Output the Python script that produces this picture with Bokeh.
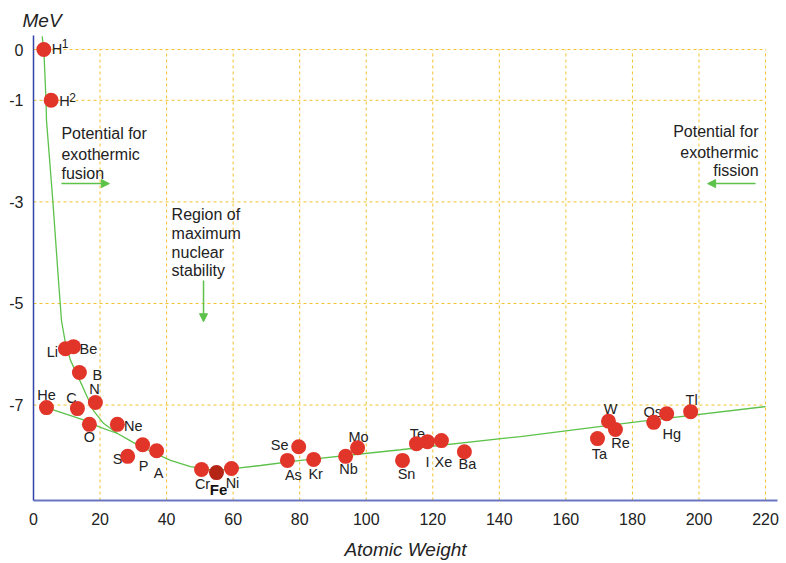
from bokeh.plotting import figure
from bokeh.models import Arrow, NormalHead, FixedTicker, ColumnDataSource
from bokeh.core.properties import value
from bokeh.embed import file_html
from bokeh.resources import INLINE

# ---------------- data ----------------
element = ["He", "Li", "Be", "B", "C", "N", "O", "Ne", "S", "P", "A", "Cr", "Ni",
           "As", "Se", "Kr", "Nb", "Mo", "Sn", "Te", "I", "Xe", "Ba",
           "Ta", "W", "Re", "Os", "Hg", "Tl"]
atomic_weight = [3.9, 9.6, 12.0, 13.8, 13.2, 18.6, 16.8, 25.2, 28.3, 32.8, 37.0, 50.5, 59.5,
                 76.3, 79.7, 84.2, 93.8, 97.4, 110.9, 115.1, 118.4, 122.6, 129.5,
                 169.5, 172.8, 174.9, 186.4, 190.3, 197.5]
mev = [-7.05, -5.89, -5.85, -6.36, -7.07, -6.95, -7.38, -7.38, -8.01, -7.78, -7.90, -8.27, -8.25,
       -8.09, -7.82, -8.07, -8.01, -7.84, -8.09, -7.76, -7.72, -7.70, -7.92,
       -7.66, -7.32, -7.48, -7.34, -7.17, -7.13]

hydrogen = ["H", "H"]
hydrogen_mass = ["1", "2"]
hydrogen_weight = [3.1, 5.3]
hydrogen_mev = [0.0, -1.0]

iron = ["Fe"]
iron_weight = [55.0]
iron_mev = [-8.33]

# binding-energy curve
curve_weight = [2.61, 3.10, 3.76, 3.91, 5.80, 7.51, 8.42, 9.62, 11.12, 13.53, 16.23, 18.03,
                21.04, 25.25, 30.06, 35.17, 41.18, 47.19, 54.70, 60.11, 68.23, 80.25,
                110.31, 146.38, 182.45, 220.0]
curve_mev = [0.26, 0.00, -1.00, -1.40, -2.97, -4.55, -5.34, -5.79, -6.12, -6.46, -6.85, -7.11,
             -7.36, -7.56, -7.74, -7.91, -8.09, -8.21, -8.29, -8.25, -8.19, -8.09,
             -7.88, -7.62, -7.32, -7.03]
# helium branch
he_weight = [3.9, 15.0, 20.1, 25.25]
he_mev = [-7.05, -7.29, -7.44, -7.56]

x_ticks = [0, 20, 40, 60, 80, 100, 120, 140, 160, 180, 200, 220]
y_ticks = [0, -1, -3, -5, -7]
y_tick_labels = ["0", "-1", "-3", "-5", "-7"]

x_title = "Atomic Weight"
y_title = "MeV"

notes_fusion = ["Potential for", "exothermic", "fusion"]
notes_stability = ["Region of", "maximum", "nuclear", "stability"]
notes_fission = ["Potential for", "exothermic", "fission"]

# ---------------- styling / positions ----------------
FONT = "Liberation Sans"
TXT = "#222222"
RED = "#e2352a"
DARK_RED = "#b52516"
GREEN = "#5cc24a"
GRID = "#f2c230"

label_offset = {
    "He": (0, -13), "Li": (-13, 3), "Be": (15, 2), "B": (18, 2), "C": (-6, -11),
    "N": (-1, -14), "O": (0, 13), "Ne": (16, 2), "S": (-10, 3), "P": (1, 21),
    "A": (2, 22), "Cr": (1, 14), "Ni": (1, 14), "As": (6, 15), "Se": (-19, -2),
    "Kr": (2, 15), "Nb": (3, 13), "Mo": (1, -11), "Sn": (4, 14), "Te": (1, -10),
    "I": (0, 20), "Xe": (2, 21), "Ba": (3, 12), "Ta": (2, 15), "W": (2, -12),
    "Re": (5, 14), "Os": (-1, -10), "Hg": (5, 20), "Tl": (1, -12),
}

x_lo, x_hi = 0, 223.6
y_lo, y_hi = -8.879, 0.276

p = figure(width=786, height=563, x_range=(x_lo, x_hi), y_range=(y_lo, y_hi),
           min_border_left=33, min_border_right=9, min_border_top=35, min_border_bottom=63,
           toolbar_location=None, output_backend="svg",
           background_fill_color="white", border_fill_color="white",
           outline_line_color=None)
p.grid.visible = False

# y title as an italic plot title at the top left
p.title.text = y_title
p.title.text_font = FONT
p.title.text_font_size = "19px"
p.title.text_font_style = "italic"
p.title.text_color = TXT
p.title.align = "left"
p.title.offset = -11
p.title.standoff = 10

# axes
p.xaxis.ticker = FixedTicker(ticks=x_ticks)
p.yaxis.ticker = FixedTicker(ticks=y_ticks)
p.yaxis.major_label_overrides = {t: s for t, s in zip(y_ticks, y_tick_labels)}
for ax in (p.xaxis[0], p.yaxis[0]):
    ax.major_tick_line_color = None
    ax.minor_tick_line_color = None
    ax.major_tick_out = 0
    ax.major_tick_in = 0
    ax.minor_tick_out = 0
    ax.minor_tick_in = 0
    ax.major_label_text_font = FONT
    ax.major_label_text_font_size = "16px"
    ax.major_label_text_color = TXT
p.yaxis.axis_line_color = "#3343a8"
p.yaxis.axis_line_width = 1.5
p.xaxis.axis_line_color = "#6a76c2"
p.xaxis.axis_line_width = 2
p.xaxis.major_label_standoff = 12
p.yaxis.major_label_standoff = 10
p.xaxis.axis_label = x_title
p.xaxis.axis_label_text_font = FONT
p.xaxis.axis_label_text_font_size = "19px"
p.xaxis.axis_label_text_font_style = "italic"
p.xaxis.axis_label_text_color = TXT
p.xaxis.axis_label_standoff = 11

# dashed grid lines, spanning only the tick extents
n_x = len(x_ticks) - 1
p.segment(x0=x_ticks[1:], y0=[y_lo] * n_x, x1=x_ticks[1:], y1=[max(y_ticks)] * n_x,
          line_color=GRID, line_width=1, line_dash="3 3")
p.segment(x0=[min(x_ticks)] * len(y_ticks), y0=y_ticks, x1=[max(x_ticks)] * len(y_ticks), y1=y_ticks,
          line_color=GRID, line_width=1, line_dash="3 3")

# curves
p.line(curve_weight, curve_mev, line_color=GREEN, line_width=1.3)
p.line(he_weight, he_mev, line_color=GREEN, line_width=1.3)

# element labels (beneath dots)
src = ColumnDataSource(dict(
    x=atomic_weight, y=mev, t=element,
    dx=[label_offset[e][0] for e in element],
    dy=[label_offset[e][1] for e in element],
))
p.text(x="x", y="y", text="t", x_offset="dx", y_offset="dy", source=src,
       text_font=value(FONT), text_font_size="14.5px", text_color=TXT,
       text_align="center", text_baseline="middle")

hsrc = ColumnDataSource(dict(x=hydrogen_weight, y=hydrogen_mev, t=hydrogen, m=hydrogen_mass,
                             dy=[-0.5, 1], my=[-6.5, -3]))
p.text(x="x", y="y", text="t", x_offset=8, y_offset="dy", source=hsrc,
       text_font=value(FONT), text_font_size="14.5px", text_color=TXT,
       text_align="left", text_baseline="middle")
p.text(x="x", y="y", text="m", x_offset=18, y_offset="my", source=hsrc,
       text_font=value(FONT), text_font_size="12px", text_color=TXT,
       text_align="left", text_baseline="middle")

# dots
p.scatter(atomic_weight, mev, size=15, fill_color=RED, line_color=None)
p.scatter(hydrogen_weight, hydrogen_mev, size=15, fill_color=RED, line_color=None)
p.scatter(iron_weight, iron_mev, size=15, fill_color=DARK_RED, line_color=None)
p.text(x=iron_weight, y=iron_mev, text=iron, x_offset=2, y_offset=17,
       text_font=value(FONT), text_font_size="15px", text_font_style="bold", text_color="#111111",
       text_align="center", text_baseline="middle")

# notes
fusion_y = [-1.65, -2.07, -2.44]
stab_y = [-3.25, -3.62, -4.00, -4.35]
fission_y = [-1.61, -2.03, -2.38]
p.text(x=[8.4] * 3, y=fusion_y, text=notes_fusion, text_font=value(FONT), text_font_size="16px",
       text_color=TXT, text_align="left", text_baseline="middle")
p.text(x=[41.5] * 4, y=stab_y, text=notes_stability, text_font=value(FONT), text_font_size="16px",
       text_color=TXT, text_align="left", text_baseline="middle")
p.text(x=[217.9] * 3, y=fission_y, text=notes_fission, text_font=value(FONT), text_font_size="16px",
       text_color=TXT, text_align="right", text_baseline="middle")

# arrows
arrow_x0 = [8.4, 51.1, 217.0]
arrow_x1 = [22.8, 51.1, 202.6]
arrow_y0 = [-2.64, -4.55, -2.64]
arrow_y1 = [-2.64, -5.36, -2.64]
for xs, ys, xe, ye in zip(arrow_x0, arrow_y0, arrow_x1, arrow_y1):
    p.add_layout(Arrow(x_start=xs, y_start=ys, x_end=xe, y_end=ye,
                       line_color=GREEN, line_width=1.5,
                       end=NormalHead(size=8, fill_color=GREEN, line_color=GREEN)))

open("out.html", "w").write(file_html(p, INLINE))
